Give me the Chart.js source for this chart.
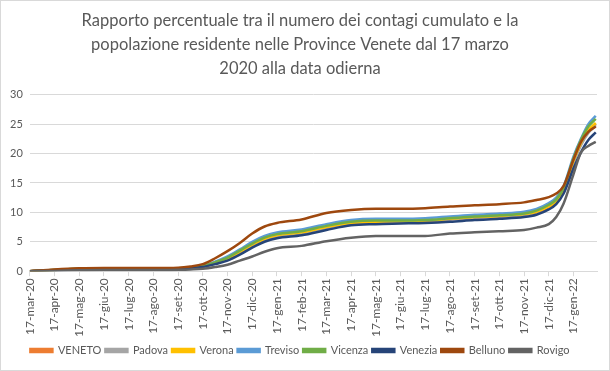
<!DOCTYPE html>
<html>
<head>
<meta charset="utf-8">
<script src="https://cdn.jsdelivr.net/npm/chart.js@4"></script>
<style>
  html, body { margin: 0; padding: 0; background: #fff; }
  #wrap { width: 610px; height: 371px; position: relative; }
</style>
</head>
<body>
<div id="wrap"><canvas id="diagram"></canvas></div>
<script>
// tick labels (one per month, starting 17 March 2020)
const monthLabels = [
  "17-mar-20", "17-apr-20", "17-mag-20", "17-giu-20", "17-lug-20", "17-ago-20",
  "17-set-20", "17-ott-20", "17-nov-20", "17-dic-20", "17-gen-21", "17-feb-21",
  "17-mar-21", "17-apr-21", "17-mag-21", "17-giu-21", "17-lug-21", "17-ago-21",
  "17-set-21", "17-ott-21", "17-nov-21", "17-dic-21", "17-gen-22",
];

// sample positions, in months since 17 March 2020
const months = [0, 1, 2, 3, 4, 5, 6, 6.5, 7, 7.5, 8, 8.5, 9, 9.5, 10, 11, 12, 13, 14, 15, 16, 17, 18, 19, 20, 20.5, 21, 21.3, 21.6, 22, 22.3, 22.6, 22.9];

const veneto  = [0, 0.2, 0.35, 0.4, 0.4, 0.4, 0.45, 0.55, 0.8, 1.4, 2.1, 3.2, 4.4, 5.4, 6.0, 6.5, 7.4, 8.1, 8.3, 8.4, 8.5, 8.8, 9.1, 9.3, 9.6, 10.0, 10.9, 11.8, 13.7, 18.6, 21.6, 23.8, 25.0];
const padova  = [0, 0.2, 0.35, 0.4, 0.4, 0.4, 0.45, 0.55, 0.75, 1.3, 2.0, 3.1, 4.3, 5.3, 5.9, 6.4, 7.4, 8.1, 8.3, 8.4, 8.5, 8.8, 9.1, 9.3, 9.6, 10.1, 11.1, 12.0, 13.9, 18.5, 21.4, 23.5, 24.8];
const verona  = [0, 0.2, 0.4, 0.45, 0.45, 0.45, 0.5, 0.6, 0.8, 1.4, 2.2, 3.3, 4.5, 5.5, 6.1, 6.6, 7.5, 8.2, 8.4, 8.5, 8.6, 8.9, 9.2, 9.4, 9.7, 10.1, 11.0, 11.9, 13.8, 18.8, 21.8, 24.0, 25.2];
const treviso = [0, 0.2, 0.4, 0.45, 0.45, 0.45, 0.5, 0.6, 0.9, 1.6, 2.5, 3.7, 5.0, 6.0, 6.6, 7.1, 8.0, 8.7, 8.9, 8.9, 9.0, 9.3, 9.6, 9.8, 10.1, 10.6, 11.6, 12.5, 14.5, 19.5, 22.5, 25.0, 26.4];
const vicenza = [0, 0.2, 0.4, 0.45, 0.45, 0.45, 0.5, 0.6, 0.85, 1.5, 2.3, 3.5, 4.7, 5.7, 6.3, 6.8, 7.7, 8.4, 8.6, 8.6, 8.7, 9.0, 9.3, 9.5, 9.8, 10.3, 11.3, 12.2, 14.2, 19.2, 22.3, 24.6, 25.9];
const venezia = [0, 0.15, 0.3, 0.35, 0.35, 0.35, 0.4, 0.5, 0.7, 1.2, 1.8, 2.8, 4.0, 5.0, 5.6, 6.1, 7.0, 7.8, 8.0, 8.1, 8.2, 8.4, 8.7, 8.9, 9.2, 9.6, 10.5, 11.4, 13.2, 17.5, 20.2, 22.3, 23.6];
const belluno = [0, 0.3, 0.5, 0.55, 0.55, 0.55, 0.6, 0.8, 1.2, 2.2, 3.4, 4.8, 6.4, 7.6, 8.2, 8.8, 9.9, 10.4, 10.6, 10.6, 10.7, 11.0, 11.2, 11.4, 11.7, 12.1, 12.6, 13.2, 14.5, 19.0, 22.0, 23.7, 24.6];
const rovigo  = [0, 0.05, 0.15, 0.2, 0.2, 0.2, 0.25, 0.3, 0.4, 0.7, 1.1, 1.8, 2.5, 3.3, 3.9, 4.3, 5.1, 5.7, 6.0, 6.0, 6.0, 6.4, 6.6, 6.8, 7.0, 7.4, 8.0, 9.2, 11.5, 16.5, 20.2, 21.3, 22.0];

const yTicks = [0, 5, 10, 15, 20, 25, 30];

const seriesNames = ["VENETO", "Padova", "Verona", "Treviso", "Vicenza", "Venezia", "Belluno", "Rovigo"];
const seriesValues = [veneto, padova, verona, treviso, vicenza, venezia, belluno, rovigo];
const colors = ["#ED7D31", "#A5A5A5", "#FFC000", "#5B9BD5", "#70AD47", "#264478", "#9E480E", "#636363"];

const textColor = "#595959";
const gridColor = "#d9d9d9";
const fontFamily = "Lato, 'Open Sans', sans-serif";

const datasets = seriesNames.map((name, i) => ({
  label: name,
  data: months.map((m, j) => ({ x: m, y: seriesValues[i][j] })),
  borderColor: colors[i],
  backgroundColor: colors[i],
  borderWidth: 2.5,
  pointRadius: 0,
  cubicInterpolationMode: "monotone",
  order: seriesNames.length - 1 - i, // later series drawn on top, like Excel
}));

const frame = {
  id: "frame",
  beforeDraw(chart) {
    const c = chart.ctx;
    c.save();
    c.fillStyle = "#fff";
    c.fillRect(0, 0, chart.width, chart.height);
    c.strokeStyle = gridColor;
    c.lineWidth = 1;
    c.strokeRect(0.5, 0.5, chart.width - 1, chart.height - 1);
    c.restore();
  },
};

const ctx = document.getElementById("diagram");

new Chart(ctx, {
  type: "line",
  data: { datasets },
  plugins: [frame],
  options: {
    responsive: true,
    maintainAspectRatio: false,
    animation: false,
    layout: { padding: { left: 3, right: 13, top: 6, bottom: 5 } },
    plugins: {
      title: {
        display: true,
        text: [
          "Rapporto percentuale tra il numero dei contagi cumulato e la",
          "popolazione residente nelle Province Venete dal 17 marzo",
          "2020 alla data odierna",
        ],
        color: textColor,
        font: { family: fontFamily, size: 16.5, weight: "normal", lineHeight: 1.45 },
        padding: { top: 3, bottom: 14 },
      },
      legend: {
        position: "bottom",
        reverse: true,
        labels: {
          color: textColor,
          font: { family: fontFamily, size: 11 },
          boxWidth: 22,
          boxHeight: 3,
          padding: 4,
        },
      },
      tooltip: { enabled: false },
    },
    scales: {
      x: {
        type: "linear",
        min: 0,
        max: 22.95,
        afterBuildTicks: (axis) => {
          axis.ticks = monthLabels.map((_, i) => ({ value: i }));
        },
        afterFit: (axis) => {
          axis.height += 2;
        },
        ticks: {
          color: textColor,
          font: { family: fontFamily, size: 12 },
          maxRotation: 90,
          minRotation: 90,
          autoSkip: false,
          padding: 2,
          callback: (v) => monthLabels[v],
        },
        grid: { drawOnChartArea: false, color: gridColor, tickLength: 5 },
        border: { color: gridColor },
      },
      y: {
        min: 0,
        max: 30,
        afterBuildTicks: (axis) => {
          axis.ticks = yTicks.map((v) => ({ value: v }));
        },
        ticks: {
          color: textColor,
          font: { family: fontFamily, size: 11 },
          padding: 7,
        },
        grid: { color: gridColor, drawTicks: false },
        border: { display: false },
      },
    },
  },
});
</script>
</body>
</html>
